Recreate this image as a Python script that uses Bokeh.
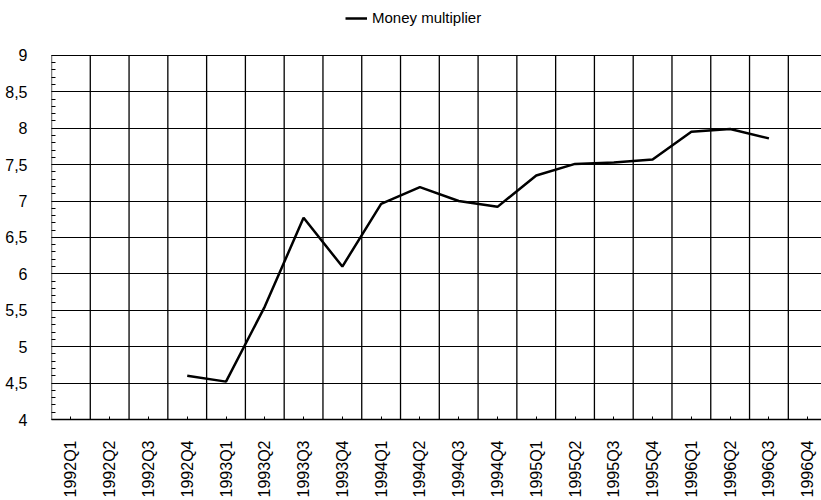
from bokeh.plotting import figure
from bokeh.models import Range1d, FixedTicker, Legend, LegendItem
from bokeh.embed import file_html
from bokeh.resources import INLINE
import math

categories = ["1992Q1", "1992Q2", "1992Q3", "1992Q4",
              "1993Q1", "1993Q2", "1993Q3", "1993Q4",
              "1994Q1", "1994Q2", "1994Q3", "1994Q4",
              "1995Q1", "1995Q2", "1995Q3", "1995Q4",
              "1996Q1", "1996Q2", "1996Q3", "1996Q4"]

series_quarters = ["1992Q4", "1993Q1", "1993Q2", "1993Q3", "1993Q4",
                   "1994Q1", "1994Q2", "1994Q3", "1994Q4",
                   "1995Q1", "1995Q2", "1995Q3", "1995Q4",
                   "1996Q1", "1996Q2", "1996Q3"]
money_multiplier = [4.60, 4.52, 5.55, 6.77, 6.10,
                    6.96, 7.19, 7.00, 6.92,
                    7.35, 7.51, 7.53, 7.57,
                    7.95, 7.99, 7.86]

y_ticks = [4, 4.5, 5, 5.5, 6, 6.5, 7, 7.5, 8, 8.5, 9]
y_tick_labels = ["4", "4,5", "5", "5,5", "6", "6,5", "7", "7,5", "8", "8,5", "9"]
Y_MIN, Y_MAX = 4, 9

FONT = "Liberation Sans"

x_pos = [categories.index(q) + 0.5 for q in series_quarters]
cat_centers = [i + 0.5 for i in range(len(categories))]
cat_bounds = list(range(0, len(categories)))

W, H = 821, 500
LEFT, BOTTOM = 51, 80
frame_h = H - BOTTOM            # frame runs from the top of the canvas
plot_h_px = 365                 # pixels between Y_MIN and Y_MAX
y_top = Y_MIN + (Y_MAX - Y_MIN) * frame_h / plot_h_px
col_px = 38.78
x_end = (W - LEFT) / col_px

p = figure(width=W, height=H, output_backend="svg", toolbar_location=None,
           x_range=Range1d(0, x_end), y_range=Range1d(Y_MIN, y_top))
p.min_border_left = LEFT
p.min_border_right = 0
p.min_border_top = 0
p.min_border_bottom = BOTTOM
p.outline_line_color = None
p.background_fill_color = "white"
p.border_fill_color = "white"

# vertical grid lines (and the left axis line) at the category boundaries,
# only over the value range
p.segment(x0=cat_bounds, y0=[Y_MIN] * len(cat_bounds),
          x1=cat_bounds, y1=[Y_MAX] * len(cat_bounds),
          line_color="black", line_width=1.3)

r = p.line(x_pos, money_multiplier, line_color="black", line_width=2.5)

# x axis
xa = p.xaxis[0]
xa.ticker = FixedTicker(ticks=cat_centers)
xa.major_label_overrides = {c: lab for c, lab in zip(cat_centers, categories)}
xa.major_label_orientation = math.pi / 2
xa.major_tick_in = 3
xa.major_tick_out = 0
xa.minor_tick_in = 0
xa.minor_tick_out = 0
xa.axis_line_color = "black"
xa.axis_line_width = 1.5
xa.major_tick_line_color = "black"
xa.major_label_text_font = FONT
xa.major_label_text_font_size = "16px"
xa.major_label_text_color = "black"
xa.major_label_standoff = 21

# y axis (its line is drawn by the boundary segment at x = 0)
ya = p.yaxis[0]
ya.ticker = FixedTicker(ticks=y_ticks,
                        minor_ticks=[Y_MIN + 0.1 * i for i in range(51)])
ya.major_label_overrides = {t: lab for t, lab in zip(y_ticks, y_tick_labels)}
ya.major_tick_in = 0
ya.major_tick_out = 0
ya.minor_tick_in = 4
ya.minor_tick_out = 0
ya.minor_tick_line_color = "black"
ya.axis_line_color = None
ya.major_label_text_font = FONT
ya.major_label_text_font_size = "16px"
ya.major_label_text_color = "black"
ya.major_label_text_align = "right"
ya.major_label_text_baseline = "middle"
ya.major_label_standoff = 24

# grids
p.xgrid[0].visible = False
p.ygrid[0].ticker = FixedTicker(ticks=y_ticks)
p.ygrid[0].grid_line_color = "black"
p.ygrid[0].grid_line_width = 1.1

legend = Legend(items=[LegendItem(label="Money multiplier", renderers=[r])],
                orientation="horizontal", location=(294, frame_h - 27),
                padding=0, margin=0, border_line_color=None,
                background_fill_alpha=0, glyph_width=22, glyph_height=14,
                label_standoff=5, label_text_font=FONT,
                label_text_font_size="15px", label_text_color="black")
p.add_layout(legend, "center")

open("out.html", "w").write(file_html(p, INLINE))
